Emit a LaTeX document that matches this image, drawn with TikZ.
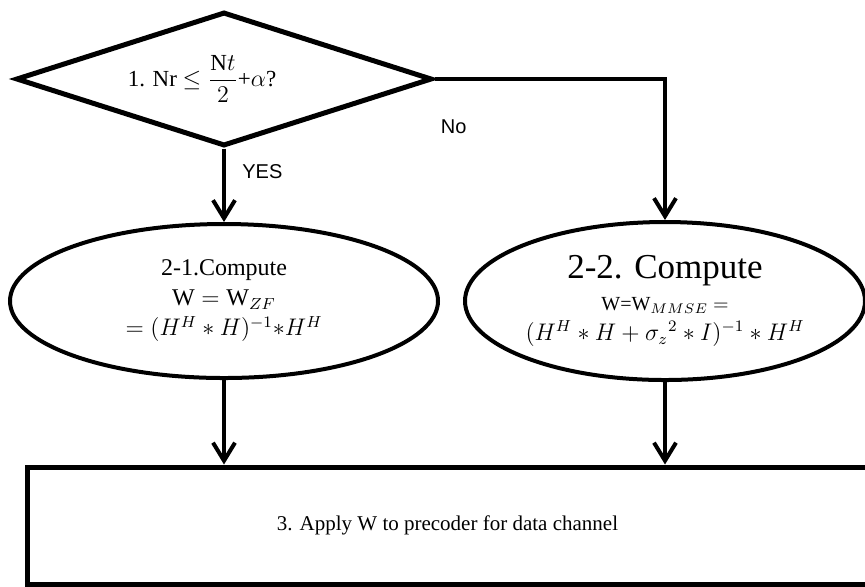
\documentclass[tikz,border=0pt]{standalone}
\usepackage{amsmath}
\usepackage{fontspec}
\setmainfont{Liberation Serif}
\newfontfamily\tagfont{Liberation Sans}
\usetikzlibrary{shapes.geometric, arrows.meta, positioning}
\tikzstyle{decision} = [diamond, draw, line width=2.5pt, inner sep=0pt, shape aspect=3.1, minimum width=208pt, minimum height=67pt, font=\fontsize{11.5}{14}\selectfont]
\tikzstyle{cloud} = [draw, ellipse, line width=2pt, align=center, inner sep=0pt, font=\fontsize{12}{15}\selectfont]
\tikzstyle{block} = [rectangle, draw, line width=2.5pt, minimum width=420.5pt, minimum height=58.5pt, font=\fontsize{10.5}{13}\selectfont]
\tikzstyle{line} = [draw, line width=2pt, -{Straight Barb[length=9pt, width=11pt]}]
\tikzstyle{tag} = [inner sep=0pt, font=\tagfont\fontsize{10}{12}\selectfont]

\begin{document}
\begin{tikzpicture}[x=0.5pt, y=-0.5pt]
    \clip (0,0) rectangle (865,586);
    % Place nodes
    \node [decision] (dec) at (224,79) {1. Nr $\leq\dfrac{\mathrm{N}t}{2}$+$\alpha$?\hspace*{22pt}};
    \node [cloud, minimum width=214pt, minimum height=77pt] (zf) at (224,301)
        {2-1.Compute\\ $\mathrm{W}=\mathrm{W}_{ZF}$\\ $=(H^{H}*H)^{-1}{*}H^{H}$};
    \node [cloud, minimum width=200pt, minimum height=79pt] (mmse) at (665,301)
        {\fontsize{17.5}{21}\selectfont 2-2. Compute\\[1pt]
         \fontsize{10}{12}\selectfont W=$\mathrm{W}_{MMSE}$ $=$\\
         $(H^{H}*H+{\sigma_{z}}^{2}*I)^{-1}*H^{H}$};
    \node [block] (apply) at (447.5,525.5) {3. Apply W to precoder for data channel};
    \node [tag, below right=8pt and 9pt of dec.south] (yes) {YES};
    \node [tag, below right=20pt and 3pt of dec.east] (no) {No};
    % Draw edges
    \path [line] (dec.south) -- (zf.north);
    \path [line] (dec.east) -| (mmse.north);
    \path [line] (zf.south) -- (zf.south |- apply.north);
    \path [line] (mmse.south) -- (mmse.south |- apply.north);
\end{tikzpicture}
\end{document}
